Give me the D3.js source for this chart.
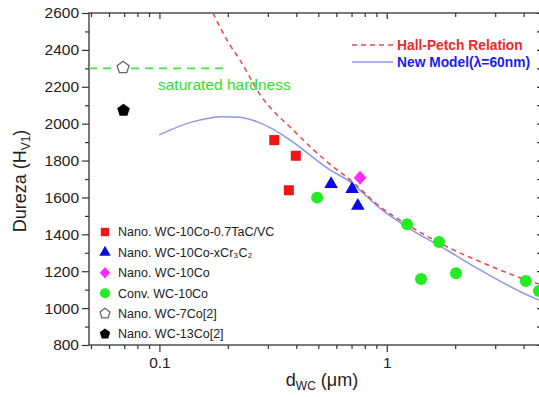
<!DOCTYPE html>
<html>
<head>
<meta charset="utf-8">
<script src="https://cdn.jsdelivr.net/npm/d3@7"></script>
<style>
  body { margin: 0; background: #fff; }
  svg { font-family: "Liberation Sans", Arial, sans-serif; }
</style>
</head>
<body>
<div id="chart"></div>
<script>
// grain size (um) vs hardness
const nanoTaCVC = [[0.320, 1911], [0.398, 1826], [0.371, 1639]];
const nanoCr3C2 = [[0.569, 1672], [0.704, 1645], [0.746, 1554]];
const nanoWC10Co = [[0.763, 1707]];
const convWC10Co = [[0.494, 1599], [1.228, 1454], [1.698, 1358], [1.415, 1158], [2.017, 1189], [4.087, 1147], [4.67, 1093]];
const nanoWC7Co = [[0.0692, 2304]];
const nanoWC13Co = [[0.0695, 2072]];

const hallPetch = [[0.172, 2600], [0.198, 2454], [0.226, 2345], [0.28, 2150], [0.387, 1966], [0.55, 1790], [0.690, 1695],
  [0.934, 1550], [1.309, 1433], [1.836, 1333], [2.572, 1252], [4.567, 1134], [4.77, 1127]];
const newModel = [[0.0997, 1939], [0.137, 2007], [0.191, 2038], [0.226, 2035], [0.268, 2011], [0.317, 1969],
  [0.376, 1911], [0.563, 1749], [0.690, 1685], [0.934, 1541], [1.224, 1441], [1.836, 1315],
  [2.572, 1207], [4.567, 1049], [4.77, 1040]];
const saturated = 2300;

const yMajor = [800, 1000, 1200, 1400, 1600, 1800, 2000, 2200, 2400, 2600];
const yMinor = [900, 1100, 1300, 1500, 1700, 1900, 2100, 2300, 2500];
const xMajor = [0.1, 1];
const xMinor = [0.05, 0.06, 0.07, 0.08, 0.09, 0.2, 0.3, 0.4, 0.5, 0.6, 0.7, 0.8, 0.9, 2, 3, 4];

const legendNames = ["Nano. WC-10Co-0.7TaC/VC", "Nano. WC-10Co-xCr\u2083C\u2082", "Nano. WC-10Co",
  "Conv. WC-10Co", "Nano. WC-7Co[2]", "Nano. WC-13Co[2]"];

const width = 539, height = 397;
const mLeft = 89, mRight = 541, mTop = 13, mBottom = 345;

const x = d3.scaleLog().domain([0.049, 4.77]).range([mLeft, mRight]);
const y = d3.scaleLinear().domain([800, 2600]).range([mBottom, mTop]);

const svg = d3.select("#chart").append("svg")
  .attr("width", width).attr("height", height);

svg.append("clipPath").attr("id", "plot")
  .append("rect").attr("x", mLeft).attr("y", mTop)
  .attr("width", mRight - mLeft).attr("height", mBottom - mTop);

// axes
const axisColor = "#333";
function styleAxis(g) {
  g.select(".domain").remove();
  g.selectAll("line").attr("stroke", axisColor).attr("stroke-width", 1.2);
  g.selectAll("text").attr("fill", "#222").attr("font-size", 15.5);
}
svg.append("g").attr("transform", `translate(${mLeft},0)`)
  .call(d3.axisLeft(y).tickValues(yMajor).tickSize(7).tickPadding(3).tickFormat(d3.format("d"))).call(styleAxis);
svg.append("g").attr("transform", `translate(${mLeft},0)`)
  .call(d3.axisLeft(y).tickValues(yMinor).tickSize(4).tickFormat("")).call(styleAxis);
svg.append("g").attr("transform", `translate(${mRight},0)`)
  .call(d3.axisLeft(y).tickValues(yMajor.concat(yMinor)).tickSize(4).tickFormat("")).call(styleAxis);

svg.append("g").attr("transform", `translate(0,${mBottom})`)
  .call(d3.axisBottom(x).tickValues(xMajor).tickSize(7).tickPadding(5).tickFormat(d3.format("~g"))).call(styleAxis);
svg.append("g").attr("transform", `translate(0,${mBottom})`)
  .call(d3.axisBottom(x).tickValues(xMinor).tickSize(4).tickFormat("")).call(styleAxis);
svg.append("g").attr("transform", `translate(0,${mTop})`)
  .call(d3.axisBottom(x).tickValues(xMajor).tickSize(6).tickFormat("")).call(styleAxis);
svg.append("g").attr("transform", `translate(0,${mTop})`)
  .call(d3.axisBottom(x).tickValues(xMinor).tickSize(4).tickFormat("")).call(styleAxis);

svg.append("rect")
  .attr("x", mLeft).attr("y", mTop).attr("width", mRight - mLeft).attr("height", mBottom - mTop)
  .attr("fill", "none").attr("stroke", axisColor).attr("stroke-width", 1.3);

// axis titles
const xt = svg.append("text").attr("x", 322).attr("y", 386)
  .attr("text-anchor", "middle").attr("font-size", 18).attr("fill", "#222");
xt.append("tspan").text("d");
xt.append("tspan").attr("font-size", 12).attr("dy", 4).text("WC");
xt.append("tspan").attr("dy", -4).text(" (\u03bcm)");

const yt = svg.append("text").attr("transform", "translate(26,181) rotate(-90)")
  .attr("text-anchor", "middle").attr("font-size", 18).attr("fill", "#222");
yt.append("tspan").text("Dureza (H");
yt.append("tspan").attr("font-size", 12).attr("dy", 4).text("V1");
yt.append("tspan").attr("dy", -4).text(")");

// curves
const plot = svg.append("g").attr("clip-path", "url(#plot)");
const line = d3.line().x(d => x(d[0])).y(d => y(d[1])).curve(d3.curveMonotoneX);

plot.append("path").datum(newModel).attr("d", line)
  .attr("fill", "none").attr("stroke", "#8d98e8").attr("stroke-width", 1.5);
plot.append("path").datum(hallPetch).attr("d", line)
  .attr("fill", "none").attr("stroke", "#e8474a").attr("stroke-width", 1.5)
  .attr("stroke-dasharray", "5,4");
plot.append("line")
  .attr("x1", mLeft).attr("x2", x(0.2)).attr("y1", y(saturated)).attr("y2", y(saturated))
  .attr("stroke", "#3ee83e").attr("stroke-width", 1.8).attr("stroke-dasharray", "8,6");

svg.append("text").attr("x", 158).attr("y", 90).attr("font-size", 15.5)
  .attr("fill", "#2fe02f").text("saturated hardness");

// markers
function pentagon(r) {
  const pts = d3.range(5).map(i => {
    const a = -Math.PI / 2 + i * 2 * Math.PI / 5;
    return [r * Math.cos(a), r * Math.sin(a)];
  });
  return d3.line()(pts) + "Z";
}
const markerTypes = [
  { data: nanoTaCVC, draw: (g, s) => g.append("path").attr("d", d3.symbol(d3.symbolSquare, 100 * s)()).attr("fill", "#f01414") },
  { data: nanoCr3C2, draw: (g, s) => g.append("path").attr("d", d3.symbol(d3.symbolTriangle, 80 * s)()).attr("fill", "#0a0ae6") },
  { data: nanoWC10Co, draw: (g, s) => g.append("path").attr("d", d3.symbol(d3.symbolSquare, 80 * s)()).attr("transform", "scale(1,1.1) rotate(45)").attr("fill", "#ff2cff") },
  { data: convWC10Co, draw: (g, s) => g.append("circle").attr("r", 6 * Math.sqrt(s)).attr("fill", "#24ec24") },
  { data: nanoWC7Co, draw: (g, s) => g.append("path").attr("d", pentagon(6.3 * Math.sqrt(s))).attr("fill", "#fff").attr("stroke", "#666").attr("stroke-width", 1.3) },
  { data: nanoWC13Co, draw: (g, s) => g.append("path").attr("d", pentagon(6.6 * Math.sqrt(s))).attr("fill", "#000") }
];

markerTypes.forEach(m => {
  plot.selectAll(null).data(m.data).join("g")
    .attr("transform", d => `translate(${x(d[0])},${y(d[1])})`)
    .each(function () { m.draw(d3.select(this), 1); });
});

// legend for the points
const leg = svg.append("g");
legendNames.forEach((name, i) => {
  const row = leg.append("g").attr("transform", `translate(105,${232 + i * 20.4})`);
  markerTypes[i].draw(row, 0.7);
  row.append("text").attr("x", 13).attr("dy", "0.35em").attr("font-size", 12.5)
    .attr("fill", "#222").text(name);
});

// legend for the curves
const curveLeg = [
  { name: "Hall-Petch Relation", color: "#e8474a", text: "#ec2a2a", dash: "5,4" },
  { name: "New Model(\u03bb=60nm)", color: "#8d98e8", text: "#1c1cf0", dash: null }
];
curveLeg.forEach((c, i) => {
  const yy = 45 + i * 17;
  svg.append("line").attr("x1", 352).attr("x2", 393).attr("y1", yy).attr("y2", yy)
    .attr("stroke", c.color).attr("stroke-width", 1.5).attr("stroke-dasharray", c.dash);
  svg.append("text").attr("x", 397).attr("y", yy).attr("dy", "0.35em")
    .attr("font-size", 13.8).attr("font-weight", "bold").attr("fill", c.text).text(c.name);
});
</script>
</body>
</html>
